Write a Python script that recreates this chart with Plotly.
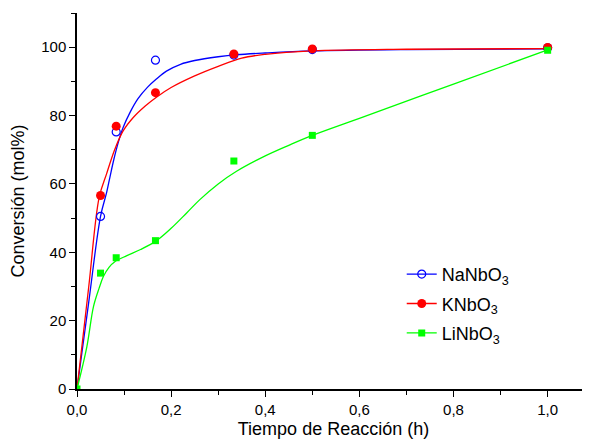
import plotly.graph_objects as go

# ---- data ----
t_points = [0.05, 0.0833, 0.1667, 0.3333, 0.5, 1.0]
na_points = [50.5, 75.2, 96.2, 97.7, 99.3, 99.8]
k_points = [56.6, 76.9, 86.7, 98.0, 99.5, 99.9]
li_t_points = [0.0, 0.05, 0.0833, 0.1667, 0.3333, 0.5, 1.0]
li_points = [0.0, 33.9, 38.4, 43.4, 66.7, 74.2, 99.1]

# fitted curves
na_fit_t = [0, 0.025, 0.05, 0.063, 0.07, 0.078, 0.088, 0.098, 0.113, 0.13, 0.15, 0.168,
            0.19, 0.22, 0.25, 0.3, 0.34, 0.4, 0.5, 0.7, 1.0]
na_fit_y = [0, 25.5, 50.5, 57.5, 62, 67, 72.3, 76.5, 81, 85, 88.3, 90.6,
            93, 95, 96.1, 97.2, 97.8, 98.3, 98.9, 99.3, 99.5]
k_fit_t = [0, 0.025, 0.047, 0.063, 0.08, 0.098, 0.12, 0.145, 0.168, 0.2, 0.25, 0.3,
           0.35, 0.4, 0.5, 0.7, 1.0]
k_fit_y = [0, 30, 56, 63, 70, 75.5, 79.5, 82.8, 85.3, 88.2, 91.6, 94.4,
           96.8, 97.9, 98.9, 99.4, 99.6]
li_fit_t = [0, 0.021, 0.035, 0.047, 0.056, 0.068, 0.081, 0.106, 0.135, 0.169, 0.2, 0.233,
            0.261, 0.3, 0.339, 0.4, 0.45, 0.5, 0.6, 0.8, 1.0]
li_fit_y = [0, 12.4, 24.1, 29.5, 32.9, 35.6, 37.3, 39, 40.8, 43.4, 47, 51.5,
            55.4, 60, 63.7, 68.2, 71.3, 74.2, 79.2, 89.2, 99.2]

names = ["NaNbO<sub>3</sub>", "KNbO<sub>3</sub>", "LiNbO<sub>3</sub>"]
colors = ["#0000FF", "#FF0000", "#00FF00"]

FONT = "Arial"

fig = go.Figure()

# fitted lines
for t, y, c in [(na_fit_t, na_fit_y, colors[0]), (k_fit_t, k_fit_y, colors[1]),
                (li_fit_t, li_fit_y, colors[2])]:
    fig.add_trace(go.Scatter(x=t, y=y, mode="lines", line=dict(color=c, width=1.3, shape="spline"),
                             showlegend=False, hoverinfo="skip"))

# markers
fig.add_trace(go.Scatter(x=t_points, y=na_points, mode="markers", showlegend=False,
                         marker=dict(symbol="circle-open", size=8, color=colors[0],
                                     line=dict(width=1.2, color=colors[0]))))
fig.add_trace(go.Scatter(x=t_points, y=k_points, mode="markers", showlegend=False,
                         marker=dict(symbol="circle", size=9, color=colors[1])))
fig.add_trace(go.Scatter(x=li_t_points, y=li_points, mode="markers", showlegend=False,
                         marker=dict(symbol="square", size=7, color=colors[2])))

# legend entries
marker_styles = [
    dict(symbol="circle-open", size=8, color=colors[0], line=dict(width=1.2, color=colors[0])),
    dict(symbol="circle", size=9, color=colors[1]),
    dict(symbol="square", size=7, color=colors[2]),
]
for i, (n, c, m) in enumerate(zip(names, colors, marker_styles)):
    fig.add_trace(go.Scatter(x=[None], y=[None], mode="lines+markers", name=n,
                             legendgroup=f"g{i}",
                             line=dict(color=c, width=1.3), marker=m))

# page has an 8px body margin, so the figure is 8px smaller than the window
fig.update_layout(
    width=582, height=437,
    margin=dict(l=69, r=0, t=5, b=56),
    paper_bgcolor="white", plot_bgcolor="white",
    separators=",.",
    font=dict(family=FONT, color="black", size=15),
    legend=dict(x=0.633, y=0.354, xanchor="left", yanchor="top",
                font=dict(family=FONT, size=18, color="black"),
                bgcolor="rgba(0,0,0,0)", tracegroupgap=3),
    xaxis=dict(range=[0, 1.09], tick0=0, dtick=0.2, tickformat=".1f", automargin=False,
               showline=True, linecolor="black", linewidth=1.5,
               ticks="outside", ticklen=6, tickwidth=1.3, tickcolor="black",
               minor=dict(dtick=0.1, ticks="outside", ticklen=4, tickwidth=1.2, tickcolor="black"),
               showgrid=False, zeroline=False,
               tickfont=dict(family=FONT, size=15),
               title=dict(text="Tiempo de Reacción (h)", font=dict(family=FONT, size=18), standoff=6)),
    yaxis=dict(range=[0, 110], tick0=0, dtick=20, automargin=False,
               showline=True, linecolor="black", linewidth=1.5,
               ticks="outside", ticklen=6, tickwidth=1.3, tickcolor="black",
               minor=dict(dtick=10, ticks="outside", ticklen=4, tickwidth=1.2, tickcolor="black"),
               showgrid=False, zeroline=False,
               tickfont=dict(family=FONT, size=15),
               title=dict(text="Conversión (mol%)", font=dict(family=FONT, size=18), standoff=15)),
)

fig.write_html("out.html")
